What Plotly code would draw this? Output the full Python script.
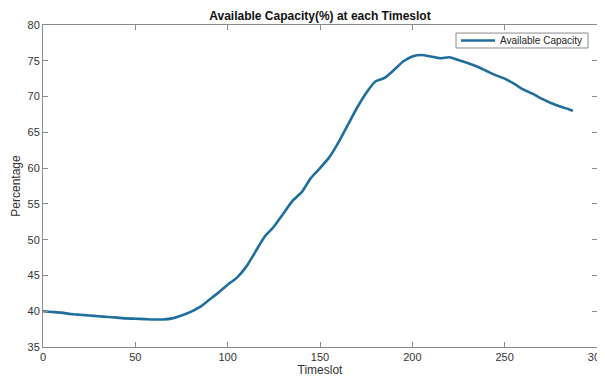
import plotly.graph_objects as go

timeslots = [0, 5, 10, 15, 20, 25, 30, 35, 40, 45, 50, 55, 60, 65, 70, 75, 80, 85, 90, 95,
             100, 105, 110, 115, 120, 125, 130, 135, 140, 145, 150, 155, 160, 165, 170, 175,
             180, 185, 190, 195, 200, 205, 210, 215, 220, 225, 230, 235, 240, 245, 250, 255,
             260, 265, 270, 275, 280, 285, 287]
capacity = [40.0, 39.9, 39.8, 39.6, 39.5, 39.4, 39.3, 39.2, 39.1, 39.0, 38.95, 38.9, 38.85, 38.85,
            39.0, 39.4, 39.9, 40.6, 41.6, 42.6, 43.7, 44.7, 46.2, 48.3, 50.4, 51.8, 53.6, 55.4,
            56.6, 58.6, 60.0, 61.5, 63.6, 66.0, 68.4, 70.5, 72.1, 72.6, 73.7, 74.9, 75.6, 75.8,
            75.6, 75.35, 75.5, 75.1, 74.7, 74.2, 73.6, 73.0, 72.5, 71.8, 71.0, 70.4, 69.7, 69.1,
            68.6, 68.2, 68.0]
xticks = [0, 50, 100, 150, 200, 250, 300]
yticks = [35, 40, 45, 50, 55, 60, 65, 70, 75, 80]
series_name = "Available Capacity"
line_color = "#1f6e9e"

fig = go.Figure()
fig.add_trace(go.Scatter(x=timeslots, y=capacity, mode="lines", name=series_name,
                         line=dict(color=line_color, width=2.6, shape="spline", smoothing=0.6)))

axis_common = dict(showgrid=False, zeroline=False, showline=True, mirror="ticks",
                   linecolor="#8a8a8a", linewidth=1, ticks="inside", ticklen=5, automargin=False,
                   ticklabeloverflow="allow",
                   tickcolor="#8a8a8a", tickfont=dict(family="Liberation Sans, Arial", size=11, color="#333333"))

# page is drawn with an 8px body margin, so figure is sized/offset to compensate
W, H = 597, 371
fig.update_layout(
    width=W, height=H,
    margin=dict(l=35, r=8, t=17, b=32),
    paper_bgcolor="white", plot_bgcolor="white",
    showlegend=False,
    title=dict(text="<b>Available Capacity(%) at each Timeslot</b>", x=(35 + 554 / 2) / W,
               xanchor="center", y=1 - 8 / H, yanchor="middle", yref="container",
               font=dict(family="Liberation Sans, Arial", size=12, color="#111111")),
    xaxis=dict(range=[0, 300], tickvals=xticks, title=dict(text="Timeslot", standoff=2,
               font=dict(family="Liberation Sans, Arial", size=12, color="#333333")), **axis_common),
    yaxis=dict(range=[35, 80], tickvals=yticks, title=dict(text="Percentage", standoff=4,
               font=dict(family="Liberation Sans, Arial", size=12, color="#333333")), **axis_common),
)

# MATLAB-style compact legend box
fig.add_shape(type="rect", xref="paper", yref="paper", x0=0.7455, x1=0.9838, y0=0.9286, y1=0.975,
              line=dict(color="#8a8a8a", width=1), fillcolor="white", layer="above")
fig.add_shape(type="line", xref="paper", yref="paper", x0=0.7545, x1=0.8159, y0=0.9518, y1=0.9518,
              line=dict(color=line_color, width=2.6), layer="above")
fig.add_annotation(text=series_name, xref="paper", yref="paper", x=0.8213, y=0.9518,
                   xanchor="left", yanchor="middle", showarrow=False,
                   font=dict(family="Liberation Sans, Arial", size=10, color="#222222"))

fig.write_html("out.html")
